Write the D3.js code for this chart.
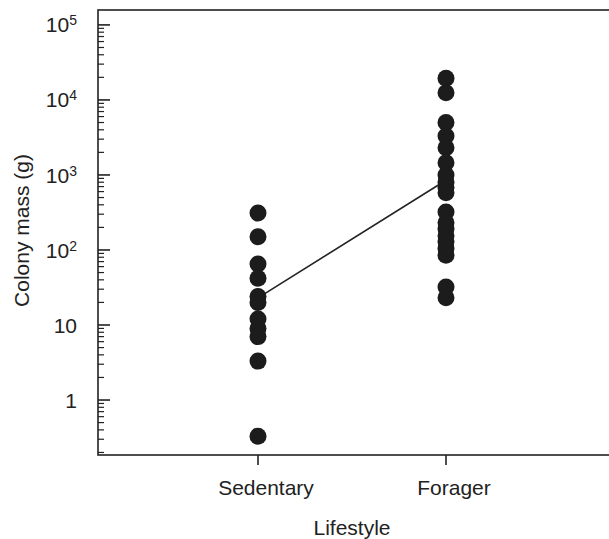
<!DOCTYPE html>
<html>
<head>
<meta charset="utf-8">
<script src="https://cdn.jsdelivr.net/npm/d3@7"></script>
<style>
  body { margin: 0; background: #fff; }
  text { font-family: "Liberation Sans", Arial, sans-serif; fill: #222; }
</style>
</head>
<body>
<svg width="609" height="539"></svg>
<script>
var svg = d3.select("svg"),
    width = +svg.attr("width"),
    height = +svg.attr("height");

var categories = ["Sedentary", "Forager"];

// colony mass (g)
var sedentary = [310, 150, 65, 42, 24, 20, 12, 9, 7, 3.3, 0.33];
var forager = [19500, 12500, 5000, 3300, 2300, 1450, 1000, 800, 680, 580,
               320, 230, 190, 155, 130, 105, 85, 32, 23];

// line joins the group means
var means = [23, 850];

var majorTicks = [1, 10, 100, 1000, 10000, 100000];
var tickLabels = ["1", "10", "10^2", "10^3", "10^4", "10^5"];

var plotLeft = 98, plotTop = 10, plotBottom = 455;

var y = d3.scaleLog()
    .domain([0.185, 158000])
    .range([plotBottom, plotTop]);

var x = d3.scalePoint()
    .domain(categories)
    .range([plotLeft + 160, plotLeft + 348]);

// frame (right edge runs off the picture)
svg.append("rect")
    .attr("x", plotLeft)
    .attr("y", plotTop)
    .attr("width", 600)
    .attr("height", plotBottom - plotTop)
    .attr("fill", "none")
    .attr("stroke", "#222")
    .attr("stroke-width", 1.6);

// minor ticks
var minor = [];
for (var e = -1; e <= 5; e++) {
  for (var m = 2; m <= 9; m++) {
    var v = m * Math.pow(10, e);
    if (v > y.domain()[0] && v < y.domain()[1]) minor.push(v);
  }
}

var yAxis = svg.append("g").attr("transform", "translate(" + plotLeft + ",0)");
yAxis.selectAll("line.minor")
    .data(minor)
    .enter().append("line")
      .attr("class", "minor")
      .attr("x1", 0).attr("x2", 6)
      .attr("y1", function(d) { return y(d); })
      .attr("y2", function(d) { return y(d); })
      .attr("stroke", "#222")
      .attr("stroke-width", 1.2);

yAxis.selectAll("line.major")
    .data(majorTicks)
    .enter().append("line")
      .attr("class", "major")
      .attr("x1", 0).attr("x2", 12)
      .attr("y1", function(d) { return y(d); })
      .attr("y2", function(d) { return y(d); })
      .attr("stroke", "#222")
      .attr("stroke-width", 1.6);

var lab = yAxis.selectAll("text.tick")
    .data(majorTicks)
    .enter().append("text")
      .attr("class", "tick")
      .attr("x", -21)
      .attr("y", function(d) { return y(d); })
      .attr("dy", "0.36em")
      .attr("text-anchor", "end")
      .style("font-size", "21px");

lab.each(function(d, i) {
  var parts = tickLabels[i].split("^");
  var t = d3.select(this);
  t.append("tspan").text(parts[0]);
  if (parts[1]) {
    t.append("tspan")
      .attr("dy", "-0.5em")
      .style("font-size", "14px")
      .text(parts[1]);
  }
});

// x axis ticks and labels
var xAxis = svg.append("g").attr("transform", "translate(0," + plotBottom + ")");
xAxis.selectAll("line")
    .data(categories)
    .enter().append("line")
      .attr("x1", function(d) { return x(d); })
      .attr("x2", function(d) { return x(d); })
      .attr("y1", 0).attr("y2", 10)
      .attr("stroke", "#222")
      .attr("stroke-width", 1.6);

xAxis.selectAll("text")
    .data(categories)
    .enter().append("text")
      .attr("x", function(d) { return x(d) + 8; })
      .attr("y", 40)
      .attr("text-anchor", "middle")
      .style("font-size", "21px")
      .text(function(d) { return d; });

svg.append("text")
    .attr("x", (x("Sedentary") + x("Forager")) / 2)
    .attr("y", 535)
    .attr("text-anchor", "middle")
    .style("font-size", "21px")
    .text("Lifestyle");

svg.append("text")
    .attr("transform", "translate(29," + ((plotTop + plotBottom) / 2 - 2) + ") rotate(-90)")
    .attr("text-anchor", "middle")
    .style("font-size", "21px")
    .text("Colony mass (g)");

// mean line
svg.append("line")
    .attr("x1", x("Sedentary")).attr("y1", y(means[0]))
    .attr("x2", x("Forager")).attr("y2", y(means[1]))
    .attr("stroke", "#222")
    .attr("stroke-width", 1.6);

// points
var groups = [sedentary, forager];
groups.forEach(function(vals, i) {
  svg.append("g")
    .selectAll("circle")
    .data(vals)
    .enter().append("circle")
      .attr("cx", x(categories[i]))
      .attr("cy", function(d) { return y(d); })
      .attr("r", 8.5)
      .attr("fill", "#1c1c1c");
});
</script>
</body>
</html>
